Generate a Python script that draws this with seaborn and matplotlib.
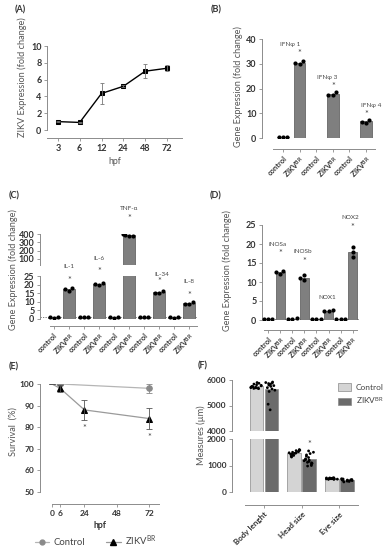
import numpy as np
import pandas as pd
import matplotlib
matplotlib.use("Agg")
import matplotlib.pyplot as plt
import seaborn as sns
from matplotlib.lines import Line2D
from matplotlib.patches import Patch

# ---------------- data ----------------
# (A) ZIKV expression over time
hpf_a = ["3", "6", "12", "24", "48", "72"]
zikv_a = [1.0, 0.9, 4.35, 5.2, 7.0, 7.35]
zikv_a_err = [0.05, 0.05, 1.3, 0.1, 0.8, 0.35]

# (B) interferons
genes_b = ["IFNφ 1", "IFNφ 3", "IFNφ 4"]
ctrl_b_bar = [0.45, 0.2, 0.2]
ctrl_b_pts = [[0.5, 0.4, 0.45], [], []]
zikv_b_pts = [[31.0, 30.0, 30.2], [18.5, 17.3, 17.3], [7.4, 6.2, 6.6]]

# (C) cytokines
genes_c = ["IL-1", "IL-6", "TNF-α", "IL-34", "IL-8"]
ctrl_c_pts = [[0.8, 1.0, 1.1], [0.9, 1.0, 1.1], [0.8, 1.0, 1.0], [0.9, 1.0, 1.1], [0.8, 1.0, 1.0]]
zikv_c_pts = [[18.0, 16.5, 17.2], [21.0, 20.0, 20.5], [395, 370, 378, 388], [16.0, 15.0, 15.3], [9.8, 8.7, 9.0]]

# (D) oxidative enzymes
genes_d = ["iNOSa", "iNOSb", "NOX1", "NOX2"]
ctrl_d_pts = [[0.3, 0.2, 0.35], [0.3, 0.25, 0.4], [0.3, 0.2, 0.35], [0.3, 0.2, 0.3]]
zikv_d_pts = [[13.0, 12.2, 12.6], [11.8, 10.5, 11.0], [2.6, 2.4, 2.5], [19.3, 16.6, 18.0]]

# (E) survival
hpf_e_ctrl = [0, 6, 72]
surv_ctrl = [100, 100, 98]
surv_ctrl_err = [0, 0, 2]
hpf_e_zikv = [0, 6, 24, 72]
surv_zikv = [100, 98, 88, 84]
surv_zikv_err = [0, 1.5, 4.5, 5]

# (F) morphology
measures = ["Body lenght", "Head size", "Eye size"]
body_ctrl = [5900, 5870, 5840, 5810, 5790, 5770, 5750, 5740, 5720, 5710, 5700, 5690, 5680, 5670, 5660]
body_zikv = [5920, 5900, 5880, 5860, 5840, 5800, 5780, 5750, 5700, 5650, 5600, 5550, 5050, 4830]
head_ctrl = [1600, 1580, 1560, 1540, 1520, 1500, 1480, 1470, 1460, 1440, 1420, 1400, 1380, 1350, 1320]
head_zikv = [1550, 1500, 1450, 1400, 1350, 1300, 1250, 1220, 1200, 1180, 1150, 1120, 1100, 1080, 1050, 1000, 980]
eye_ctrl = [540, 530, 520, 510, 500, 495, 490, 485, 480, 480, 490, 500, 510, 520, 530]
eye_zikv = [500, 490, 480, 470, 460, 450, 440, 430, 420, 410, 400, 380, 470, 460]

# ---------------- style ----------------
sns.set_style("ticks")
plt.rcParams["font.family"] = ["Lato", "DejaVu Sans"]
plt.rcParams["mathtext.default"] = "regular"
np.random.seed(3)  # only for the strip jitter in (F)

AX = "#8c8c8c"
TXT = "#333333"
LAB = "#555555"
BAR = "#7f7f7f"
BAR_EDGE = "#555555"

W, H = 384, 550
fig = plt.figure(figsize=(3.84, 5.5), dpi=100)


def add_ax(x0, y0, x1, y1):
    return fig.add_axes([x0 / W, 1 - y1 / H, (x1 - x0) / W, (y1 - y0) / H])


def style_ax(ax, offset_px=0, size=6.5):
    sns.despine(ax=ax)
    for s in ("left", "bottom"):
        ax.spines[s].set_color(AX)
        ax.spines[s].set_linewidth(0.7)
    if offset_px:
        ax.spines["bottom"].set_position(("outward", offset_px * 0.72))
    ax.tick_params(colors=AX, labelcolor=TXT, length=2.5, width=0.6, pad=1.5)
    for lab in ax.get_yticklabels():
        lab.set_fontweight("bold")
        lab.set_fontsize(size)
    ax.set_xlabel("")
    ax.set_ylabel("")


def gene_frames(genes, ctrl_pts, zikv_pts, ctrl_bar=None):
    order, bars, pts = [], [], []
    for i, g in enumerate(genes):
        for grp, p in (("control", ctrl_pts[i]), ("zikv", zikv_pts[i])):
            key = g + "|" + grp
            order.append(key)
            if grp == "control" and ctrl_bar is not None:
                bars.append((key, ctrl_bar[i]))
            else:
                bars.append((key, float(np.mean(p))))
            pts += [(key, v) for v in p]
    bar_df = pd.DataFrame(bars, columns=["key", "value"])
    pts_df = pd.DataFrame(pts, columns=["key", "value"])
    return order, bar_df, pts_df


def gene_bars(ax, order, bar_df, pts_df, width, lim):
    sns.barplot(data=bar_df, x="key", y="value", order=order, color=BAR, edgecolor=BAR_EDGE,
                linewidth=0.5, width=width, errorbar=None, saturation=1, ax=ax)
    shown = pts_df[(pts_df["value"] >= lim[0]) & (pts_df["value"] <= lim[1])]
    sns.swarmplot(data=shown, x="key", y="value", order=order, color="black", size=3, ax=ax)
    ax.set_ylim(*lim)


def gene_xticks(ax, n, size=5.3):
    ax.set_xticks(range(2 * n))
    ax.set_xticklabels(["control", "ZIKV$^{BR}$"] * n, rotation=45, ha="right",
                       rotation_mode="anchor", fontsize=size, fontweight="bold", color=TXT)


def note(ax, x, y, s, size=4.6):
    ax.text(x, y, s, ha="center", va="center", fontsize=size, color="#444444", clip_on=False)


def star(ax, x, y):
    ax.text(x, y, "*", ha="center", va="center", fontsize=6.5, color="#444444", clip_on=False)


# ---------------- (A) ----------------
ax = add_ax(47, 46, 182, 130)
sns.pointplot(x=hpf_a, y=zikv_a, color="black", markers="s", markersize=3, linewidth=1,
              errorbar=None, ax=ax)
ax.errorbar(range(len(hpf_a)), zikv_a, yerr=zikv_a_err, fmt="none", ecolor="#777777",
            elinewidth=0.6, capsize=1.5, capthick=0.6)
ax.set_xlim(-0.5, 5.69)
ax.set_ylim(0, 10)
ax.set_yticks(range(0, 11, 2))
style_ax(ax, 8)
for lab in ax.get_xticklabels():
    lab.set_fontweight("bold")
    lab.set_fontsize(6.5)
ax.set_xlabel("hpf", fontsize=6.3, color=LAB, labelpad=3)

# ---------------- (B) ----------------
ax = add_ax(262, 39, 375, 138)
order, bar_df, pts_df = gene_frames(genes_b, ctrl_b_pts, zikv_b_pts, ctrl_b_bar)
gene_bars(ax, order, bar_df, pts_df, 0.7, (0, 40))
ax.set_xlim(-1.27, 5.54)
ax.set_yticks(range(0, 41, 10))
style_ax(ax, 11)
ax.spines["bottom"].set_bounds(-0.6, 5.54)
gene_xticks(ax, 3)
note(ax, 0.45, 37.6, genes_b[0])
star(ax, 1, 34.0)
note(ax, 2.65, 24.6, genes_b[1])
star(ax, 3, 20.8)
note(ax, 5.3, 13.3, genes_b[2])
star(ax, 5, 9.6)

# ---------------- (C) broken axis ----------------
order, bar_df, pts_df = gene_frames(genes_c, ctrl_c_pts, zikv_c_pts)
ax_top = add_ax(40, 234, 197, 265)
gene_bars(ax_top, order, bar_df, pts_df, 0.8, (25, 400))
ax_top.set_xlim(-0.93, 9.53)
ax_top.set_yticks([100, 200, 300, 400])
style_ax(ax_top)
ax_top.spines["bottom"].set_visible(False)
ax_top.set_xticks([])
note(ax_top, 5, 708, genes_c[2])
star(ax_top, 5, 592)

ax = add_ax(40, 276, 197, 319)
gene_bars(ax, order, bar_df, pts_df, 0.8, (0, 25))
ax.axhline(1, color="#666666", lw=0.6, ls=(0, (1.5, 1.5)), zorder=0)
ax.set_xlim(-0.93, 9.53)
ax.set_yticks(range(0, 26, 5))
style_ax(ax, 7)
ax.spines["bottom"].set_bounds(-0.27, 9.53)
gene_xticks(ax, 5)
note(ax, 1, 30.4, genes_c[0])
star(ax, 1, 22.4)
note(ax, 3, 35.3, genes_c[1])
star(ax, 3, 27.6)
note(ax, 7.2, 25.6, genes_c[3])
star(ax, 7, 21.6)
note(ax, 9, 22.0, genes_c[4])
star(ax, 9, 13.6)

# ---------------- (D) ----------------
ax = add_ax(262, 225, 360, 320)
order, bar_df, pts_df = gene_frames(genes_d, ctrl_d_pts, zikv_d_pts)
gene_bars(ax, order, bar_df, pts_df, 0.75, (0, 25))
ax.axhline(0.3, color="#666666", lw=0.6, ls=(0, (1.5, 1.5)), zorder=0)
ax.set_xlim(-0.5, 7.6)
ax.set_yticks(range(0, 26, 5))
style_ax(ax, 10)
ax.spines["bottom"].set_bounds(-0.33, 7.36)
gene_xticks(ax, 4)
note(ax, 0.83, 20.0, genes_d[0])
star(ax, 1, 17.4)
note(ax, 2.9, 17.9, genes_d[1])
star(ax, 3, 15.3)
note(ax, 4.9, 5.8, genes_d[2])
note(ax, 6.8, 27.0, genes_d[3])
star(ax, 7, 24.3)

# ---------------- (E) ----------------
ax = add_ax(40, 384, 159, 492)
sns.lineplot(x=hpf_e_ctrl, y=surv_ctrl, color="#b5b5b5", lw=0.9, marker="o", markersize=4,
             markerfacecolor="#8a8a8a", markeredgecolor="#8a8a8a", markevery=[1, 2], ax=ax)
sns.lineplot(x=hpf_e_zikv, y=surv_zikv, color="#9a9a9a", lw=0.9, marker="^", markersize=5,
             markerfacecolor="black", markeredgecolor="black", markevery=[1, 2, 3], ax=ax)
ax.errorbar(hpf_e_ctrl, surv_ctrl, yerr=surv_ctrl_err, fmt="none", ecolor="#888888",
            elinewidth=0.6, capsize=2, capthick=0.6)
ax.errorbar(hpf_e_zikv, surv_zikv, yerr=surv_zikv_err, fmt="none", ecolor="#555555",
            elinewidth=0.6, capsize=2, capthick=0.6)
ax.set_xlim(-8.9, 79.2)
ax.set_ylim(50, 100)
ax.set_yticks(range(50, 101, 10))
ax.set_xticks([0, 6, 24, 48, 72])
style_ax(ax, 12, 6)
ax.spines["bottom"].set_bounds(0, 79)
for lab in ax.get_xticklabels():
    lab.set_fontweight("bold")
    lab.set_fontsize(6)
ax.set_xlabel("hpf", fontsize=6.3, fontweight="bold", color=TXT, labelpad=3)
star(ax, 24, 79.6)
star(ax, 72, 75.0)
handles = [Line2D([], [], color="#b5b5b5", lw=0.9, marker="o", ms=3.5, mfc="#8a8a8a", mec="#8a8a8a"),
           Line2D([], [], color="#9a9a9a", lw=0.9, marker="^", ms=4.5, mfc="black", mec="black")]
fig.legend(handles, ["Control", "ZIKV$^{BR}$"], loc="center", bbox_to_anchor=(96 / W, 1 - 541 / H),
           ncol=2, frameon=False, fontsize=6.8, handlelength=1.5, columnspacing=2.2,
           handletextpad=0.5, labelcolor="#444444")

# ---------------- (F) broken axis ----------------
rows = []
for m, c, z in zip(measures, (body_ctrl, head_ctrl, eye_ctrl), (body_zikv, head_zikv, eye_zikv)):
    rows += [(m, "Control", v) for v in c]
    rows += [(m, "ZIKV", v) for v in z]
df_f = pd.DataFrame(rows, columns=["measure", "group", "value"])
pal_f = {"Control": "#d4d4d4", "ZIKV": "#6b6b6b"}

for (y0, y1, lim, ticks) in ((380, 431, (4000, 6000), [4000, 5000, 6000]),
                             (439, 492, (0, 2000), [0, 1000, 2000])):
    ax = add_ax(232, y0, 358, y1)
    sns.barplot(data=df_f, x="measure", y="value", hue="group", order=measures, palette=pal_f,
                edgecolor="#8a8a8a", linewidth=0.5, gap=0.08, errorbar=None, saturation=1,
                legend=False, ax=ax)
    shown = df_f[(df_f["value"] >= lim[0]) & (df_f["value"] <= lim[1])]
    sns.stripplot(data=shown, x="measure", y="value", hue="group", order=measures,
                  hue_order=["Control", "ZIKV"], palette={"Control": "black", "ZIKV": "black"},
                  dodge=True, jitter=0.32, size=2, legend=False, ax=ax)
    ax.set_xlim(-0.85, 2.5)
    ax.set_ylim(*lim)
    ax.set_yticks(ticks)
    if lim[0] == 0:
        style_ax(ax, 13, 6)
        ax.spines["bottom"].set_bounds(-0.5, 2.5)
        ax.set_xticks(range(3))
        ax.set_xticklabels(measures, rotation=45, ha="right", rotation_mode="anchor",
                           fontsize=5.8, fontweight="bold", color=TXT)
        star(ax, 1.2, 1780)
    else:
        style_ax(ax, 0, 6)
        ax.spines["bottom"].set_visible(False)
        ax.set_xticks([])
        ax.legend([Patch(facecolor=pal_f["Control"], edgecolor="#8a8a8a", lw=0.5),
                   Patch(facecolor=pal_f["ZIKV"], edgecolor="#8a8a8a", lw=0.5)],
                  ["Control", "ZIKV$^{BR}$"], loc="upper left",
                  bbox_to_anchor=(330 / W, 1 - 376 / H), bbox_transform=fig.transFigure,
                  frameon=False, fontsize=6, handlelength=1.6, handleheight=1.0,
                  labelspacing=0.5, handletextpad=0.6, labelcolor="#444444")

# ---------------- axis titles and panel letters ----------------
ylabels = [(22, 77, "ZIKV Expression (fold change)"),
           (238, 87, "Gene Expression (fold change)"),
           (13, 270, "Gene Expression (fold change)"),
           (227, 271, "Gene Expression (fold change)"),
           (13, 432, "Survival  (%)"),
           (201, 435, "Measures (µm)")]
for x, y, s in ylabels:
    fig.text(x / W, 1 - y / H, s, rotation=90, ha="center", va="center", fontsize=6.6, color=LAB)

panels = [(20, 10, "(A)"), (216, 10, "(B)"), (14, 196, "(C)"),
          (216, 196, "(D)"), (14, 367, "(E)"), (203, 366, "(F)")]
for x, y, s in panels:
    fig.text(x / W, 1 - y / H, s, ha="center", va="center", fontsize=6.5, fontweight="bold", color=TXT)

fig.savefig("out.png", dpi=100, facecolor="white")
